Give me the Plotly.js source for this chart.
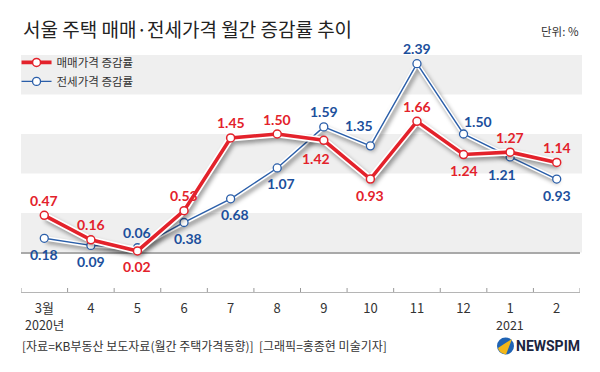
<!DOCTYPE html>
<html>
<head>
<meta charset="utf-8">
<script src="https://cdn.plot.ly/plotly-3.0.1.min.js"></script>
<style>
html,body{margin:0;padding:0;background:#fff;}
#chart{width:600px;height:372px;}
</style>
</head>
<body>
<div id="chart"></div>
<script>
// ---- data ----
var months = ['3월', '4', '5', '6', '7', '8', '9', '10', '11', '12', '1', '2'];
var saleRate = [0.47, 0.16, 0.02, 0.53, 1.45, 1.50, 1.42, 0.93, 1.66, 1.24, 1.27, 1.14];
var jeonseRate = [0.18, 0.09, 0.06, 0.38, 0.68, 1.07, 1.59, 1.35, 2.39, 1.50, 1.21, 0.93];
var yearLabels = ['2020년', '', '', '', '', '', '', '', '', '', '2021', ''];
var saleName = '매매가격 증감률';
var jeonseName = '전세가격 증감률';

// ---- label placement (style) ----
var salePos = ['t','t','b','t','t','t','bl','b','t','b','t','t'];
var jeonsePos = ['b','b','t','br','br','br','t','tl','t','tr','bl','b'];
var offs = {
  t:[0,15], b:[0,-16], bl:[-8,-18], br:[4,-16], tl:[-11,20], tr:[14,13]
};

var RED = '#e3222b', BLUE = '#2a5ea9', BLUE_TXT = '#1c4f9c';
var idx = months.map(function(_, i){ return i; });

var traces = [
  {x: idx, y: jeonseRate, mode: 'lines', line: {color: '#ffffff', width: 4.5}, showlegend: false, hoverinfo: 'skip'},
  {x: idx, y: jeonseRate, mode: 'lines+markers', name: jeonseName,
   line: {color: BLUE, width: 1.4},
   marker: {symbol: 'circle', size: 8, color: '#ffffff', line: {color: BLUE, width: 1.3}}},
  {x: idx, y: saleRate, mode: 'lines', line: {color: '#ffffff', width: 7}, showlegend: false, hoverinfo: 'skip'},
  {x: idx, y: saleRate, mode: 'lines+markers', name: saleName,
   line: {color: RED, width: 3.6},
   marker: {symbol: 'circle', size: 8, color: '#ffffff', line: {color: RED, width: 1.5}}}
];

var annotations = [];
function addLabels(vals, pos, color){
  vals.forEach(function(v, i){
    var o = offs[pos[i]];
    annotations.push({x: i, y: v, xref: 'x', yref: 'y', text: v.toFixed(2), showarrow: false,
      xshift: o[0], yshift: o[1], xanchor: 'center', yanchor: 'middle',
      font: {family: 'Lato, sans-serif', size: 14, color: color, weight: 700}});
  });
}
addLabels(saleRate, salePos, RED);
addLabels(jeonseRate, jeonsePos, BLUE_TXT);

yearLabels.forEach(function(t, i){
  if (t) annotations.push({x: i, y: 0, xref: 'x', yref: 'paper', text: t, showarrow: false,
    yshift: -21, yanchor: 'top', xanchor: 'center',
    font: {family: 'Noto Sans CJK KR, sans-serif', size: 12.5, color: '#333'}});
});

// px -> paper helpers (for decoration placement)
var L = 21, R = 20, T = 55, B = 80, W = 600, H = 372;
function px(x){ return (x - L) / (W - L - R); }
function py(y){ return (H - B - y) / (H - T - B); }

annotations.push({xref: 'paper', yref: 'paper', x: px(21), y: py(28), xanchor: 'left', yanchor: 'middle',
  text: '서울 주택 매매·전세가격 월간 증감률 추이', showarrow: false,
  font: {family: 'Noto Sans CJK KR, sans-serif', size: 19, color: '#222'}});
annotations.push({xref: 'paper', yref: 'paper', x: px(581), y: py(31), xanchor: 'right', yanchor: 'middle',
  text: '단위: %', showarrow: false,
  font: {family: 'Noto Sans CJK KR, sans-serif', size: 11.5, color: '#333'}});
annotations.push({xref: 'paper', yref: 'paper', x: px(20), y: py(345), xanchor: 'left', yanchor: 'middle',
  text: '[자료=KB부동산 보도자료(월간 주택가격동향)]  [그래픽=홍종현 미술기자]', showarrow: false,
  font: {family: 'Noto Sans CJK KR, sans-serif', size: 12, color: '#333'}});
annotations.push({xref: 'paper', yref: 'paper', x: px(582), y: py(346), xanchor: 'right', yanchor: 'middle',
  text: '<b>NEWSPIM</b>', showarrow: false,
  font: {family: 'Roboto, Liberation Sans, sans-serif', size: 14, color: '#1b2540'}});

var shapes = [];
[[0,0.5],[1,1.5],[2,2.5]].forEach(function(b){
  shapes.push({type: 'rect', xref: 'paper', yref: 'y', x0: 0, x1: px(582), y0: b[0], y1: b[1],
    fillcolor: '#efefef', line: {width: 0}, layer: 'below'});
});
// logo icon
shapes.push({type: 'circle', xref: 'paper', yref: 'paper', x0: px(497), x1: px(514), y0: py(354.5), y1: py(337.5),
  fillcolor: '#1f63b4', line: {width: 0}});
shapes.push({type: 'path', xref: 'paper', yref: 'paper',
  path: 'M ' + px(498) + ',' + py(348) + ' Q ' + px(505) + ',' + py(343) + ' ' + px(512) + ',' + py(339) +
        ' L ' + px(506) + ',' + py(354.5) + ' Q ' + px(499) + ',' + py(353) + ' ' + px(498) + ',' + py(348) + ' Z',
  fillcolor: '#f2b71a', line: {width: 0}});

var layout = {
  width: W, height: H,
  margin: {l: L, r: R, t: T, b: B, pad: 0},
  paper_bgcolor: '#ffffff', plot_bgcolor: 'rgba(0,0,0,0)',
  showlegend: true,
  legend: {x: -0.008, xanchor: 'left', y: 1.03, yanchor: 'top', traceorder: 'reversed',
    bgcolor: 'rgba(0,0,0,0)', font: {family: 'Noto Sans CJK KR, sans-serif', size: 11.5, color: '#333'},
    tracegroupgap: 0, itemwidth: 30},
  xaxis: {type: 'linear', range: [-0.5, 11.5], tickmode: 'array', tickvals: idx, ticktext: months,
    showgrid: false, zeroline: false, showline: true, linecolor: '#b5b5b5', linewidth: 1,
    ticks: '', tickfont: {family: 'Noto Sans CJK KR, sans-serif', size: 13, color: '#333'},
    ticklabelstandoff: 4, fixedrange: true},
  yaxis: {range: [-0.5, 2.5], showticklabels: false, showgrid: false, ticks: '',
    zeroline: true, zerolinecolor: '#a9a9a9', zerolinewidth: 2, fixedrange: true},
  shapes: shapes,
  annotations: annotations
};
// tick marks at category boundaries
months.concat(['']).forEach(function(_, i){
  layout.shapes.push({type: 'line', xref: 'x', yref: 'paper', x0: i - 0.5, x1: i - 0.5, y0: 0, y1: 4 / (H - T - B),
    line: {color: '#999999', width: 1}});
});

Plotly.newPlot('chart', traces, layout, {displayModeBar: false, staticPlot: true}).then(function(){
  var tr = document.querySelectorAll('.scatterlayer .trace');
  [0, 2].forEach(function(k){
    if (tr[k]) tr[k].style.filter = 'drop-shadow(2px 3px 2px rgba(0,0,0,0.38))';
  });
});
</script>
</body>
</html>
